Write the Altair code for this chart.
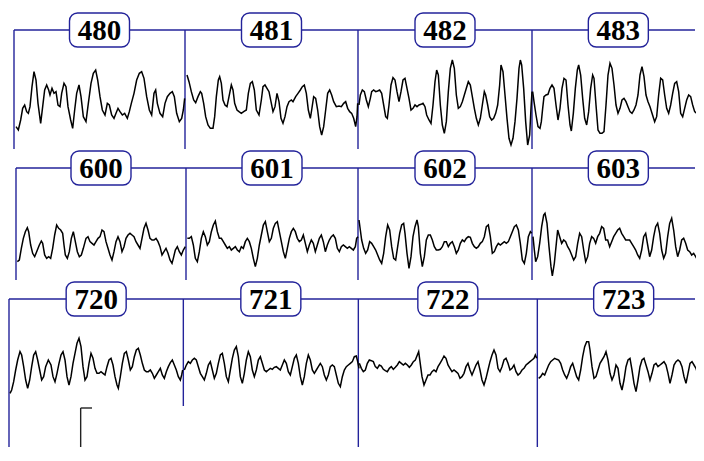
import altair as alt
import pandas as pd

# ---------------- data ----------------
ROW_EPOCHS = [[480, 481, 482, 483], [600, 601, 602, 603], [720, 721, 722, 723]]
# epoch onsets (samples) within each strip
ROW_ONSETS = [[0, 513, 1032, 1554], [0, 510, 1026, 1548], [0, 523, 1048, 1585]]
EPOCH_LEN = 518

# (sample, amplitude) readings per epoch
EEG_480 = [(6,-80),(13,-90),(20,-60),(26,-25),(32,-15),(38,-35),(43,-40),(48,-20),(54,40),(60,85),(66,60),(72,-10),(80,-70),(86,-20),(92,30),(98,45),(104,30),(108,15),(114,35),(120,20),(126,25),(132,-15),(138,-20),(143,20),(150,50),(156,40),(162,-20),(170,-60),(176,-85),(182,-30),(188,20),(195,45),(201,10),(208,-50),(216,-65),(223,-10),(231,50),(238,80),(245,90),(251,60),(258,10),(265,-30),(273,-45),(280,-10),(286,-15),(293,-45),(300,-55),(306,-40),(312,-25),(318,-35),(325,-45),(332,-40),(340,-55),(346,-35),(352,-10),(360,20),(368,60),(376,80),(383,85),(390,65),(398,10),(406,-30),(413,-45),(420,20),(425,30),(430,-10),(438,-40),(446,-50),(453,-10),(460,10),(468,20),(475,25),(481,10),(488,-40),(496,-65),(503,-55),(508,-30),(512,5)]
EEG_481 = [(6,75),(12,55),(19,25),(26,0),(32,-8),(39,10),(46,25),(50,20),(56,-10),(62,-50),(69,-75),(76,-85),(84,-85),(89,-50),(94,10),(100,60),(104,70),(109,50),(114,0),(120,-15),(126,-20),(132,10),(139,45),(144,30),(149,-10),(156,-30),(162,-35),(169,-40),(176,-35),(184,-30),(190,20),(196,50),(202,55),(208,30),(214,-30),(222,-45),(229,0),(234,40),(240,45),(246,35),(252,25),(258,-5),(264,-35),(270,-20),(276,20),(282,-5),(288,-55),(294,-70),(300,-50),(306,-20),(312,-5),(319,0),(324,-5),(332,10),(339,20),(346,30),(352,40),(358,45),(364,20),(370,-30),(376,-55),(380,-30),(386,10),(392,5),(398,-30),(404,-80),(410,-105),(416,-80),(422,-30),(428,20),(434,30),(440,15),(446,-5),(454,-20),(462,-18),(469,-20),(476,-10),(482,-5),(488,-25),(494,-35),(500,-40),(506,-55),(512,-80),(516,-50),(518,-10)]
EEG_482 = [(3,-15),(7,15),(13,30),(19,25),(25,0),(31,-20),(37,5),(41,25),(47,30),(53,25),(59,27),(65,30),(71,20),(77,-15),(83,-50),(88,-55),(93,-15),(99,45),(105,67),(111,60),(117,25),(123,-5),(129,25),(135,60),(141,65),(147,35),(153,5),(159,-30),(165,-25),(171,-15),(177,-20),(183,-15),(189,-13),(195,-10),(201,-20),(206,-45),(213,-60),(219,-70),(225,-15),(231,55),(236,90),(241,75),(247,-15),(253,-75),(259,-100),(265,-65),(271,25),(277,95),(283,120),(289,95),(295,15),(301,-25),(307,-20),(313,-5),(319,15),(325,35),(331,55),(337,45),(343,10),(349,-25),(355,-55),(361,-75),(367,-55),(373,-15),(379,25),(383,15),(389,-15),(395,-50),(401,-60),(407,-55),(413,-40),(419,-15),(425,45),(429,105),(435,85),(441,15),(447,-55),(453,-115),(459,-135),(465,-115),(471,-65),(477,5),(483,95),(487,120),(491,105),(497,35),(503,-65),(509,-135),(515,-105),(519,-25),(522,25)]
EEG_483 = [(2,25),(6,-5),(12,-45),(18,-80),(24,-85),(28,-65),(32,-25),(36,10),(42,15),(48,17),(54,35),(60,45),(66,35),(72,-15),(78,-60),(84,-25),(90,35),(96,65),(102,60),(108,-15),(114,-75),(118,-93),(124,-40),(130,35),(136,90),(140,105),(146,75),(152,5),(158,-55),(164,-75),(170,-35),(176,35),(182,75),(186,65),(192,-15),(198,-90),(204,-100),(210,-100),(216,-95),(222,-15),(228,75),(234,110),(240,95),(246,45),(252,-15),(258,-40),(264,-25),(270,0),(276,5),(282,-5),(288,-20),(294,-35),(300,-40),(306,-30),(312,-15),(318,15),(324,75),(330,100),(336,70),(342,15),(348,-5),(354,-20),(360,-40),(368,-65),(374,-50),(380,15),(386,65),(392,60),(398,15),(404,-25),(410,-40),(416,-15),(422,20),(428,50),(434,55),(440,25),(446,-40),(452,-50),(458,-25),(464,0),(470,15),(476,10),(482,-15),(488,-35),(494,-40),(500,-30),(506,-15),(512,35),(516,40)]
EEG_600 = [(4,-65),(10,-60),(16,-25),(22,5),(28,25),(34,37),(38,25),(44,-15),(50,-40),(56,-50),(62,-35),(70,-15),(76,-3),(80,-10),(86,-45),(92,-55),(98,-50),(104,-55),(110,-25),(116,15),(122,45),(128,35),(134,30),(140,20),(144,-15),(148,-45),(154,-55),(160,-35),(166,5),(172,25),(178,-5),(184,-35),(190,-50),(196,-45),(202,-25),(210,5),(216,10),(222,-5),(228,-10),(234,-15),(240,-5),(246,5),(252,10),(258,30),(264,25),(270,-5),(276,-25),(282,-45),(288,-60),(294,-35),(300,-5),(306,10),(312,-5),(318,-35),(324,-20),(330,5),(336,15),(342,20),(348,15),(354,10),(360,-5),(366,-15),(372,-25),(378,5),(384,35),(390,50),(396,30),(402,5),(408,0),(414,0),(420,5),(426,-5),(432,-20),(438,-45),(444,-35),(450,-25),(456,-40),(462,-60),(468,-70),(472,-55),(478,-30),(484,-20),(490,-35),(496,-45),(502,-30),(508,-20)]
EEG_601 = [(4,5),(10,5),(16,10),(22,-15),(28,-55),(34,-65),(40,-35),(46,5),(52,25),(58,10),(64,-15),(70,-5),(76,25),(82,45),(88,57),(94,25),(100,5),(106,5),(112,-5),(118,-15),(124,-25),(130,-20),(136,-30),(142,-25),(148,-20),(154,-30),(160,-35),(166,-20),(172,-25),(178,-5),(184,5),(190,-5),(196,-25),(202,-55),(208,-80),(214,-55),(220,-15),(226,15),(232,45),(238,55),(244,25),(250,-5),(256,5),(262,35),(268,50),(274,55),(280,25),(286,-5),(292,-35),(298,-55),(304,-25),(310,5),(316,25),(322,35),(328,25),(334,5),(340,-5),(346,0),(352,15),(358,-10),(364,-35),(370,-15),(376,0),(382,-10),(388,-35),(394,-15),(400,5),(406,15),(412,-5),(418,-35),(424,-15),(430,0),(436,10),(442,15),(448,5),(454,-25),(460,-35),(466,-20),(472,-15),(478,-20),(484,-25),(490,-20),(496,-25),(502,-30),(508,-20),(512,5),(516,10)]
EEG_602 = [(3,60),(7,30),(11,0),(17,-25),(23,-40),(29,-30),(35,-5),(41,-10),(47,-20),(53,-30),(59,-45),(65,-60),(71,-70),(77,-40),(83,10),(89,45),(95,30),(101,-20),(107,-55),(113,-60),(119,-20),(125,20),(131,45),(137,50),(141,20),(147,-40),(153,-85),(159,-50),(165,10),(171,40),(177,60),(181,40),(187,-40),(193,-80),(199,-50),(205,0),(211,15),(217,15),(223,0),(229,-20),(235,-30),(241,-30),(247,-28),(253,-20),(259,-5),(265,-5),(271,-20),(277,-10),(283,-5),(289,-20),(295,-40),(301,-30),(307,-10),(313,0),(319,-5),(325,5),(331,10),(337,8),(343,-10),(349,-20),(355,-25),(361,-20),(367,-10),(373,-5),(379,10),(385,40),(391,45),(397,10),(403,-40),(409,-35),(415,-20),(421,-10),(427,-15),(433,-10),(439,-5),(445,-10),(451,-5),(457,10),(463,25),(469,40),(475,45),(481,30),(487,-10),(493,-60),(499,-70),(505,-40),(511,10),(517,25),(521,20)]
EEG_603 = [(3,10),(7,-30),(11,-65),(17,-50),(23,-10),(29,40),(35,75),(39,80),(45,50),(51,-20),(57,-80),(61,-108),(67,-70),(73,-10),(77,30),(83,10),(89,-10),(95,0),(101,-5),(107,-20),(113,-30),(119,-45),(125,-60),(131,-50),(137,-10),(143,20),(149,10),(155,-30),(161,-65),(167,-50),(173,-10),(179,10),(185,5),(191,-10),(197,10),(203,20),(209,40),(215,35),(221,0),(227,0),(233,-20),(239,-5),(245,10),(251,20),(257,30),(263,35),(269,20),(275,10),(281,0),(287,0),(293,0),(299,-10),(305,-20),(311,-30),(317,-45),(323,-55),(329,-30),(335,10),(341,20),(347,-15),(353,-50),(359,-30),(365,10),(371,40),(377,50),(383,20),(389,-30),(395,-55),(401,-40),(407,10),(413,50),(419,65),(425,30),(431,-20),(437,-50),(443,-30),(449,0),(455,5),(461,-10),(467,-30),(473,-35),(479,-45),(485,-40),(491,-50),(497,-60),(503,-65),(509,-40),(515,-25)]
EEG_720 = [(3,-85),(8,-75),(14,-50),(20,-15),(26,15),(33,40),(38,30),(44,-5),(50,-45),(56,-70),(62,-45),(68,-5),(74,30),(80,40),(86,15),(92,-15),(98,-45),(104,-35),(110,-5),(118,15),(126,0),(132,-35),(138,-50),(144,-25),(150,5),(156,30),(162,40),(168,15),(174,-35),(180,-60),(186,-35),(192,5),(198,35),(204,65),(210,80),(216,55),(222,-5),(228,-45),(234,-35),(240,5),(246,35),(252,20),(258,-10),(264,-25),(270,-25),(276,-20),(282,-25),(288,-30),(294,-5),(300,15),(306,20),(312,0),(318,-35),(324,-60),(328,-70),(334,-35),(340,5),(346,35),(352,40),(358,15),(364,-15),(370,-5),(376,25),(382,45),(388,50),(394,30),(400,5),(406,-15),(412,-20),(418,-20),(424,-15),(430,-25),(436,-40),(442,-30),(448,-20),(454,-10),(460,-30),(466,-40),(472,-20),(478,-5),(484,7),(490,15),(496,0),(502,-15),(508,-35),(514,-45),(518,-30),(521,-15)]
EEG_721 = [(3,-15),(9,0),(15,10),(21,5),(27,15),(33,20),(39,15),(45,-5),(51,-25),(57,-35),(63,-45),(69,-25),(75,0),(81,10),(87,-15),(93,-40),(99,-25),(105,5),(111,30),(117,35),(123,5),(129,-35),(135,-50),(141,-15),(147,20),(153,45),(159,55),(165,25),(171,-35),(177,-55),(183,-25),(189,15),(195,40),(201,25),(207,-15),(213,-35),(219,-15),(225,15),(231,25),(237,5),(243,-15),(249,-20),(255,-15),(261,-10),(267,-13),(273,-7),(279,-5),(285,-10),(291,-15),(297,0),(303,15),(309,5),(315,-20),(321,-30),(327,-5),(333,20),(339,30),(345,5),(351,-35),(357,-60),(363,-35),(369,5),(375,30),(381,15),(387,-15),(393,-25),(399,-15),(405,-5),(411,5),(417,-5),(423,-30),(429,-45),(435,-30),(441,-5),(447,0),(453,-5),(459,-30),(465,-55),(471,-65),(477,-35),(483,-15),(489,-5),(495,0),(501,5),(507,10),(513,25),(519,27),(523,10),(527,-10)]
EEG_722 = [(3,5),(9,-10),(15,-20),(21,-15),(27,5),(33,15),(39,13),(45,10),(51,-5),(57,-10),(63,0),(69,-3),(75,-13),(81,-17),(87,-20),(93,-10),(99,-5),(105,-13),(111,-7),(117,0),(123,10),(129,5),(135,0),(141,5),(147,0),(153,-7),(159,0),(165,10),(171,15),(177,30),(181,40),(185,10),(191,-35),(197,-60),(203,-45),(209,-30),(215,-30),(221,-20),(227,-15),(233,-20),(239,-5),(245,5),(251,15),(257,27),(263,20),(269,0),(275,-10),(281,-20),(287,-15),(293,-20),(299,-25),(305,-40),(311,-35),(317,-25),(323,-5),(329,5),(335,-15),(341,-30),(347,-15),(353,0),(359,10),(365,-15),(371,-45),(377,-60),(383,-40),(389,-15),(395,10),(401,30),(407,45),(413,30),(419,-10),(425,-20),(431,-5),(437,15),(443,20),(449,5),(455,-15),(461,-10),(467,0),(473,-20),(479,-30),(485,-25),(491,-15),(497,-10),(503,0),(509,5),(515,10),(521,15),(527,20),(531,30),(535,20)]
EEG_723 = [(4,-40),(10,-35),(16,-25),(22,-30),(28,-15),(34,0),(40,10),(46,15),(52,20),(58,17),(64,15),(70,5),(76,-15),(82,-30),(88,-40),(94,-25),(100,-5),(106,5),(112,-15),(118,-35),(124,-45),(130,-15),(136,25),(142,55),(148,70),(154,70),(158,45),(164,-5),(170,-40),(176,-35),(182,-15),(188,5),(194,15),(200,25),(206,40),(212,15),(218,-25),(224,-45),(230,-30),(236,0),(242,-10),(248,-55),(254,-75),(260,-45),(266,-5),(272,15),(278,20),(284,-15),(290,-55),(296,-80),(302,-45),(308,-5),(314,15),(320,20),(326,0),(332,-20),(338,-45),(344,-25),(350,0),(356,5),(362,-5),(368,0),(374,5),(380,10),(386,0),(392,-25),(398,-55),(404,-30),(410,0),(416,10),(422,15),(428,10),(434,-5),(440,-35),(446,-55),(452,-25),(458,5),(464,10),(470,0),(476,-10),(482,-30),(488,-15),(494,-5),(500,-15),(504,-20)]

EEG = {480: EEG_480, 481: EEG_481, 482: EEG_482, 483: EEG_483,
       600: EEG_600, 601: EEG_601, 602: EEG_602, 603: EEG_603,
       720: EEG_720, 721: EEG_721, 722: EEG_722, 723: EEG_723}

# calibration marker (strip 3): sample position, width, amplitude span
CAL_SAMPLE = 215
CAL_WIDTH = 34
CAL_AMP = (-129, -246)

# ---------------- layout / style ----------------
# the whole drawing must fit inside the 704x461 window minus the page margin
ROW_W = 688
ROW_H = [142, 131, 167]
XDOM = [[-18, 2046], [-24, 2040], [-3, 2061]]
YDOM = [[-150, 276], [-123, 270], [-249, 252]]
FRAME_TOP = [210, 216, 198]
FRAME_BOTTOM = [[-147, -147, -147, -147], [-120, -120, -120, -120], [-246, -123, -246, -246]]
BOX_HALF_W = 90   # samples (30 px)
BOX_HALF_H = 51   # amplitude units (17 px)
BLUE = "#23239a"


def row_chart(r):
    epochs = ROW_EPOCHS[r]
    onsets = ROW_ONSETS[r]
    xs = alt.Scale(domain=XDOM[r], nice=False, zero=False)
    ys = alt.Scale(domain=YDOM[r], nice=False, zero=False)

    wave = []
    for k, ep in enumerate(epochs):
        for t, a in EEG[ep]:
            wave.append({"epoch": str(ep), "s": onsets[k] + t, "uv": a})
    wave = pd.DataFrame(wave)

    vlines = pd.DataFrame({"s": onsets, "top": [FRAME_TOP[r]] * 4, "bot": FRAME_BOTTOM[r]})
    hline = pd.DataFrame({"s": [onsets[0]], "s2": [XDOM[r][1] - 3], "y": [FRAME_TOP[r]]})

    centers = [(onsets[k] + onsets[k + 1]) / 2 for k in range(3)] + [onsets[3] + EPOCH_LEN / 2]
    labels = pd.DataFrame({
        "label": [str(e) for e in epochs],
        "c": centers,
        "x1": [c - BOX_HALF_W for c in centers],
        "x2": [c + BOX_HALF_W for c in centers],
        "y": [FRAME_TOP[r]] * 4,
        "y1": [FRAME_TOP[r] - BOX_HALF_H] * 4,
        "y2": [FRAME_TOP[r] + BOX_HALF_H] * 4,
    })

    layers = [
        alt.Chart(hline).mark_rule(color=BLUE, strokeWidth=1.4).encode(
            x=alt.X("s:Q", scale=xs, axis=None), x2="s2:Q",
            y=alt.Y("y:Q", scale=ys, axis=None)),
        alt.Chart(vlines).mark_rule(color=BLUE, strokeWidth=1.4).encode(
            x=alt.X("s:Q", scale=xs, axis=None),
            y=alt.Y("top:Q", scale=ys, axis=None), y2="bot:Q"),
        alt.Chart(wave).mark_line(color="#000000", strokeWidth=1.5, clip=True).encode(
            x=alt.X("s:Q", scale=xs, axis=None),
            y=alt.Y("uv:Q", scale=ys, axis=None),
            detail="epoch:N"),
        alt.Chart(labels).mark_rect(fill="white", stroke=BLUE, strokeWidth=1.4, cornerRadius=8).encode(
            x=alt.X("x1:Q", scale=xs, axis=None), x2="x2:Q",
            y=alt.Y("y1:Q", scale=ys, axis=None), y2="y2:Q"),
        alt.Chart(labels).mark_text(font="Liberation Serif", fontWeight="bold", fontSize=29,
                                    color="black", align="center", baseline="middle", dy=1).encode(
            x=alt.X("c:Q", scale=xs, axis=None),
            y=alt.Y("y:Q", scale=ys, axis=None),
            text="label:N"),
    ]
    if r == 2:
        cal = pd.DataFrame({"s": [CAL_SAMPLE], "s2": [CAL_SAMPLE + CAL_WIDTH],
                            "a1": [CAL_AMP[0]], "a2": [CAL_AMP[1]]})
        layers.append(alt.Chart(cal).mark_rule(color="#222222", strokeWidth=1.4).encode(
            x=alt.X("s:Q", scale=xs, axis=None),
            y=alt.Y("a1:Q", scale=ys, axis=None), y2="a2:Q"))
        layers.append(alt.Chart(cal).mark_rule(color="#222222", strokeWidth=1.4).encode(
            x=alt.X("s:Q", scale=xs, axis=None), x2="s2:Q",
            y=alt.Y("a1:Q", scale=ys, axis=None)))
    return alt.layer(*layers).properties(width=ROW_W, height=ROW_H[r])


chart = alt.vconcat(row_chart(0), row_chart(1), row_chart(2), spacing=0, bounds="flush").properties(
    padding=0, background="white"
).configure_view(stroke=None)

chart.save("out.html", embed_options={"renderer": "svg", "actions": False})
